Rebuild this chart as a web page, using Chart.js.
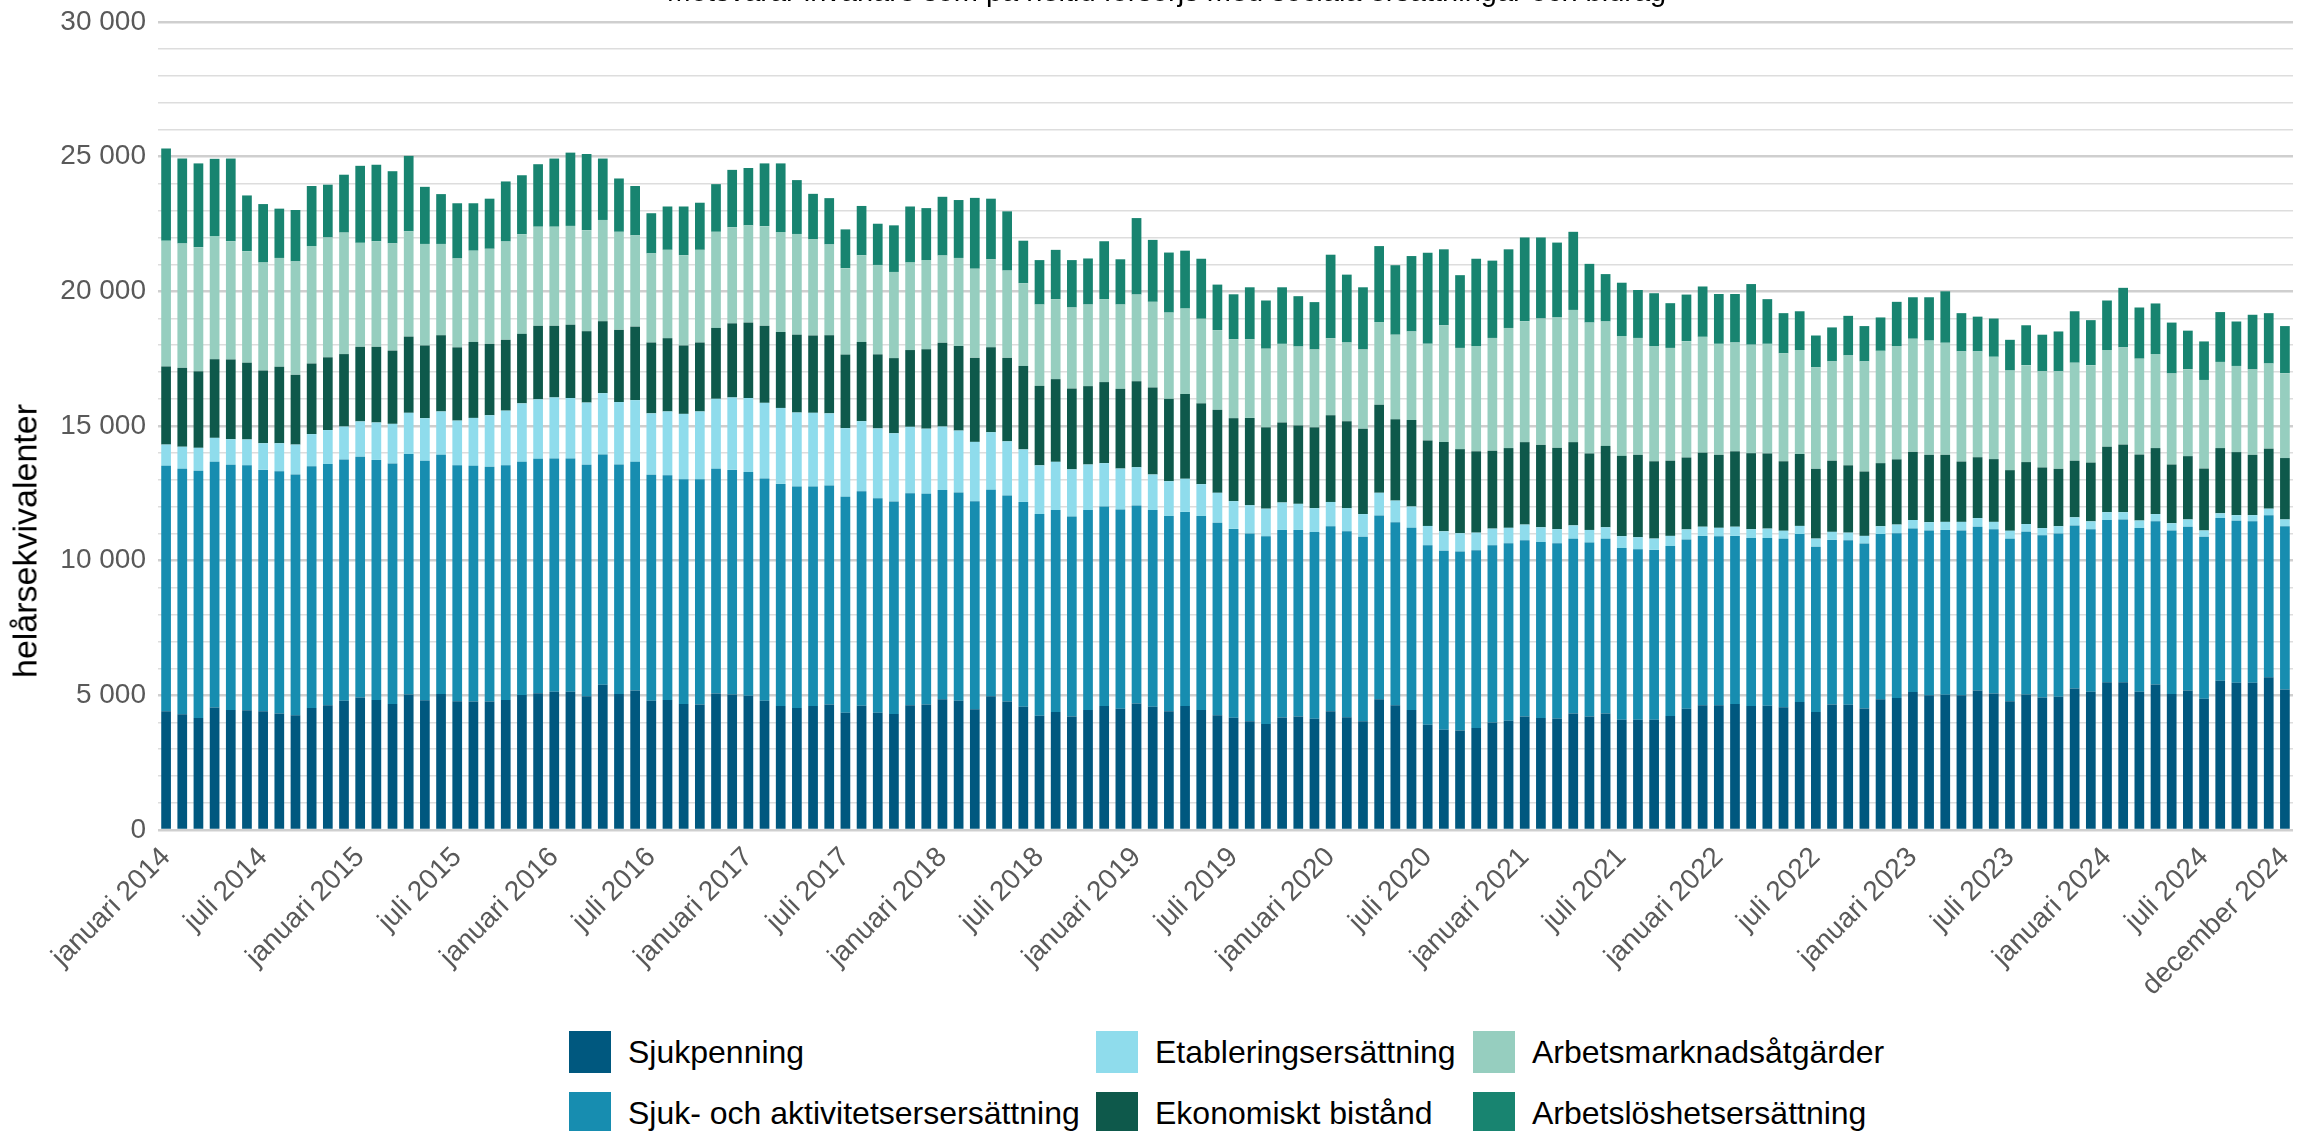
<!DOCTYPE html>
<html lang="sv">
<head>
<meta charset="utf-8">
<title>Helårsekvivalenter per månad</title>
<script src="https://cdn.jsdelivr.net/npm/chart.js"></script>
<style>
  html, body { margin: 0; padding: 0; background: #fff; }
  #page {
    position: relative; width: 2323px; height: 1131px; overflow: hidden;
    font-family: 'Liberation Sans', Arial, sans-serif;
  }
  #chartBox { position: absolute; left: 0; top: -24px; width: 2323px; height: 1024px; }
  #yTitle {
    position: absolute; left: 25px; top: 541px;
    transform: translate(-50%, -50%) rotate(-90deg);
    font-size: 34px; color: #000; white-space: nowrap;
  }
  #legend {
    position: absolute; left: 569px; top: 1031px;
    display: grid; grid-auto-flow: column;
    grid-template-columns: 527px 377px auto;
    grid-template-rows: 61px 61px;
  }
  .item { display: flex; align-items: center; height: 42px; font-size: 32px; color: #000; white-space: nowrap; }
  .sw { width: 42px; height: 42px; margin-right: 17px; flex: none; }
</style>
</head>
<body>
<div id="page">
  <div id="chartBox"><canvas id="chart"></canvas></div>
  <div id="yTitle">helårsekvivalenter</div>
  <div id="legend"></div>
</div>
<script>
const years = [2014, 2015, 2016, 2017, 2018, 2019, 2020, 2021, 2022, 2023, 2024];
const monthNames = ['januari', 'februari', 'mars', 'april', 'maj', 'juni', 'juli',
  'augusti', 'september', 'oktober', 'november', 'december'];

// one row per year, januari..december
const sjukpenning = [
  4410, 4300, 4160, 4550, 4460, 4450, 4410, 4330, 4260, 4530, 4630, 4800,
  4920, 4830, 4680, 5030, 4820, 5050, 4780, 4770, 4770, 4830, 5010, 5080,
  5130, 5130, 4970, 5390, 5050, 5180, 4800, 4830, 4680, 4660, 5070, 5030,
  4980, 4800, 4600, 4530, 4600, 4660, 4350, 4610, 4350, 4310, 4630, 4660,
  4850, 4800, 4480, 4970, 4770, 4580, 4240, 4380, 4210, 4460, 4600, 4500,
  4700, 4580, 4410, 4600, 4460, 4260, 4170, 4040, 3940, 4180, 4210, 4130,
  4410, 4190, 4040, 4850, 4630, 4460, 3910, 3720, 3690, 3790, 3990, 4060,
  4210, 4160, 4140, 4330, 4210, 4330, 4090, 4090, 4090, 4230, 4500, 4630,
  4630, 4680, 4600, 4610, 4560, 4750, 4380, 4660, 4650, 4510, 4850, 4900,
  5120, 5000, 5020, 5000, 5180, 5070, 4780, 5030, 4920, 4950, 5250, 5130,
  5490, 5490, 5130, 5400, 5050, 5180, 4870, 5540, 5470, 5470, 5670, 5220
];
const sjukAktivitet = [
  9110, 9110, 9180, 9120, 9100, 9090, 8960, 8990, 8940, 8980, 8960, 8960,
  8940, 8910, 8930, 8930, 8890, 8880, 8760, 8750, 8720, 8710, 8660, 8700,
  8660, 8660, 8590, 8550, 8520, 8490, 8390, 8340, 8340, 8360, 8340, 8340,
  8310, 8250, 8250, 8220, 8150, 8130, 8020, 7970, 7970, 7890, 7870, 7820,
  7770, 7730, 7730, 7660, 7650, 7600, 7490, 7500, 7430, 7420, 7410, 7400,
  7350, 7300, 7250, 7210, 7200, 7150, 7010, 6970, 6970, 6960, 6930, 6930,
  6870, 6900, 6850, 6830, 6800, 6760, 6660, 6650, 6650, 6600, 6580, 6590,
  6550, 6530, 6510, 6480, 6460, 6480, 6380, 6330, 6310, 6310, 6290, 6290,
  6280, 6240, 6240, 6230, 6250, 6240, 6140, 6110, 6110, 6130, 6140, 6120,
  6070, 6120, 6120, 6120, 6080, 6100, 6030, 6040, 6020, 6060, 6060, 6040,
  6020, 6040, 6080, 6060, 6070, 6080, 6020, 6040, 6010, 5990, 6020, 6060
];
const etablering = [
  790, 820, 850, 890, 950, 960, 990, 1040, 1110, 1190, 1260, 1220,
  1310, 1390, 1470, 1530, 1580, 1610, 1660, 1780, 1910, 2030, 2170, 2210,
  2270, 2250, 2310, 2280, 2320, 2290, 2280, 2370, 2430, 2520, 2600, 2690,
  2750, 2810, 2820, 2750, 2740, 2680, 2550, 2600, 2590, 2530, 2470, 2420,
  2360, 2300, 2200, 2140, 2010, 1950, 1810, 1790, 1750, 1690, 1610, 1520,
  1420, 1320, 1290, 1230, 1180, 1110, 1030, 1050, 1020, 1020, 970, 890,
  900, 860, 840, 840, 800, 790, 720, 720, 680, 650, 620, 570,
  580, 550, 520, 500, 470, 430, 440, 450, 420, 380, 370, 340,
  310, 340, 330, 350, 300, 300, 300, 300, 280, 280, 290, 320,
  320, 310, 300, 320, 320, 270, 300, 290, 270, 270, 300, 290,
  290, 270, 280, 270, 270, 270, 230, 180, 210, 230, 240, 250
];
const ekonomisktBistand = [
  2900, 2930, 2840, 2920, 2960, 2850, 2700, 2840, 2590, 2620, 2700, 2690,
  2770, 2810, 2720, 2830, 2700, 2830, 2720, 2820, 2650, 2630, 2580, 2730,
  2660, 2720, 2650, 2670, 2680, 2730, 2630, 2720, 2540, 2560, 2630, 2750,
  2800, 2860, 2820, 2890, 2870, 2900, 2730, 2940, 2750, 2790, 2850, 2950,
  3110, 3140, 3120, 3150, 3100, 3100, 2950, 3070, 3000, 2910, 3010, 2960,
  3190, 3230, 3060, 3150, 3000, 3080, 3080, 3240, 3020, 2970, 2910, 3000,
  3220, 3230, 3170, 3270, 3020, 3210, 3170, 3320, 3120, 3020, 2890, 2960,
  3060, 3060, 3020, 3090, 2840, 3020, 2980, 3060, 2870, 2790, 2670, 2750,
  2710, 2800, 2820, 2790, 2580, 2670, 2590, 2640, 2500, 2390, 2340, 2420,
  2530, 2500, 2490, 2240, 2260, 2330, 2250, 2300, 2250, 2130, 2100, 2180,
  2430, 2510, 2450, 2450, 2180, 2350, 2300, 2420, 2340, 2240, 2230, 2280
];
const arbetsmarknad = [
  4670, 4620, 4610, 4570, 4390, 4140, 4010, 4040, 4210, 4360, 4450, 4510,
  3860, 3920, 3980, 3910, 3770, 3390, 3300, 3390, 3530, 3650, 3700, 3680,
  3680, 3670, 3750, 3760, 3640, 3390, 3310, 3280, 3350, 3440, 3570, 3570,
  3610, 3700, 3710, 3740, 3570, 3370, 3210, 3220, 3320, 3200, 3250, 3310,
  3240, 3270, 3310, 3270, 3240, 3070, 3020, 2970, 3010, 3030, 3080, 3130,
  3220, 3180, 3200, 3170, 3140, 2960, 2930, 2920, 2920, 2920, 2930, 2890,
  2860, 2920, 2940, 3070, 3140, 3290, 3590, 4330, 3760, 3910, 4190, 4460,
  4490, 4690, 4840, 4910, 4860, 4620, 4450, 4340, 4280, 4190, 4320, 4300,
  4120, 4040, 4030, 4070, 4010, 3860, 3770, 3690, 4080, 4090, 4170, 4210,
  4200, 4240, 4160, 4090, 3930, 3800, 3700, 3600, 3570, 3620, 3640, 3620,
  3590, 3610, 3560, 3490, 3380, 3230, 3290, 3200, 3200, 3170, 3160, 3150
];
const arbetsloshet = [
  3420, 3150, 3110, 2870, 3070, 2070, 2170, 1830, 1910, 2230, 1960, 2150,
  2860, 2840, 2680, 2800, 2120, 1850, 2050, 1760, 1860, 2230, 2190, 2320,
  2530, 2720, 2830, 2280, 1980, 1830, 1490, 1610, 1810, 1750, 1770, 2130,
  2130, 2330, 2550, 2000, 1690, 1720, 1440, 1830, 1530, 1730, 2080, 1930,
  2180, 2150, 2630, 2250, 2200, 1580, 1650, 1830, 1760, 1710, 2150, 1680,
  2840, 2300, 2230, 2150, 2230, 1690, 1670, 1930, 1790, 2100, 1870, 1760,
  3100, 2520, 2310, 2820, 2580, 2800, 3380, 2820, 2700, 3240, 2870, 2920,
  3110, 3010, 2780, 2900, 2180, 1760, 1980, 1780, 1960, 1660, 1730, 1870,
  1850, 1800, 2250, 1660, 1490, 1440, 1180, 1260, 1470, 1310, 1240, 1640,
  1540, 1610, 1910, 1420, 1290, 1420, 1140, 1480, 1360, 1480, 1910, 1670,
  1840, 2210, 1900, 1880, 1890, 1430, 1430, 1850, 1650, 2030, 1870, 1750
];

const months = [];
years.forEach(y => monthNames.forEach(m => months.push(m + ' ' + y)));

const FONT = "'Liberation Sans', Arial, sans-serif";
const spaced = v => String(v).replace(/\B(?=(\d{3})+(?!\d))/g, ' ');

const series = [
  { label: 'Sjukpenning', data: sjukpenning, color: '#00587f' },
  { label: 'Sjuk- och aktivitetsersersättning', data: sjukAktivitet, color: '#178db0' },
  { label: 'Etableringsersättning', data: etablering, color: '#8fdcec' },
  { label: 'Ekonomiskt bistånd', data: ekonomisktBistand, color: '#0e594b' },
  { label: 'Arbetsmarknadsåtgärder', data: arbetsmarknad, color: '#96cebf' },
  { label: 'Arbetslöshetsersättning', data: arbetsloshet, color: '#188470' }
];

const chart = new Chart(document.getElementById('chart'), {
  type: 'bar',
  data: {
    labels: months,
    datasets: series.map(s => ({
      label: s.label,
      data: s.data,
      backgroundColor: s.color,
      borderWidth: 0,
      barPercentage: 0.6,
      categoryPercentage: 1
    }))
  },
  options: {
    responsive: true,
    maintainAspectRatio: false,
    animation: false,
    // left padding moves the centred title a little to the right
    layout: { padding: { left: 40, right: 30, top: 0, bottom: 0 } },
    plugins: {
      legend: { display: false },
      tooltip: { enabled: false },
      title: {
        display: true,
        text: 'Motsvarar invånare som på heltid försörjs med sociala ersättningar och bidrag',
        color: '#000',
        font: { family: FONT, size: 29, weight: 'normal', lineHeight: 1.2 },
        padding: { top: 0, bottom: 11.2 }
      }
    },
    scales: {
      x: {
        stacked: true,
        grid: { display: false },
        border: { display: false },
        ticks: {
          autoSkip: false,
          maxRotation: 45,
          minRotation: 45,
          color: '#595959',
          font: { family: FONT, size: 28 },
          callback: (v, i) => (i % 6 === 0 || i === months.length - 1) ? months[i] : ''
        },
        afterFit: scale => { scale.height = 170; }
      },
      y: {
        stacked: true,
        min: 0,
        max: 30000,
        border: { display: false },
        grid: {
          drawTicks: false,
          color: ctx => ctx.tick && ctx.tick.value % 5000 === 0 ? '#cfcfcf' : '#dddddd',
          lineWidth: ctx => ctx.tick && ctx.tick.value % 5000 === 0 ? 2.5 : 1.5
        },
        ticks: {
          stepSize: 1000,
          autoSkip: false,
          padding: 12,
          color: '#595959',
          font: { family: FONT, size: 28 },
          callback: v => v % 5000 === 0 ? spaced(v) : ''
        },
        afterFit: scale => { scale.width = 118; }
      }
    }
  }
});

// legend laid out column by column, two rows
const legend = document.getElementById('legend');
chart.data.datasets.forEach(ds => {
  const item = document.createElement('div');
  item.className = 'item';
  const sw = document.createElement('span');
  sw.className = 'sw';
  sw.style.background = ds.backgroundColor;
  item.appendChild(sw);
  item.appendChild(document.createTextNode(ds.label));
  legend.appendChild(item);
});
</script>
</body>
</html>
